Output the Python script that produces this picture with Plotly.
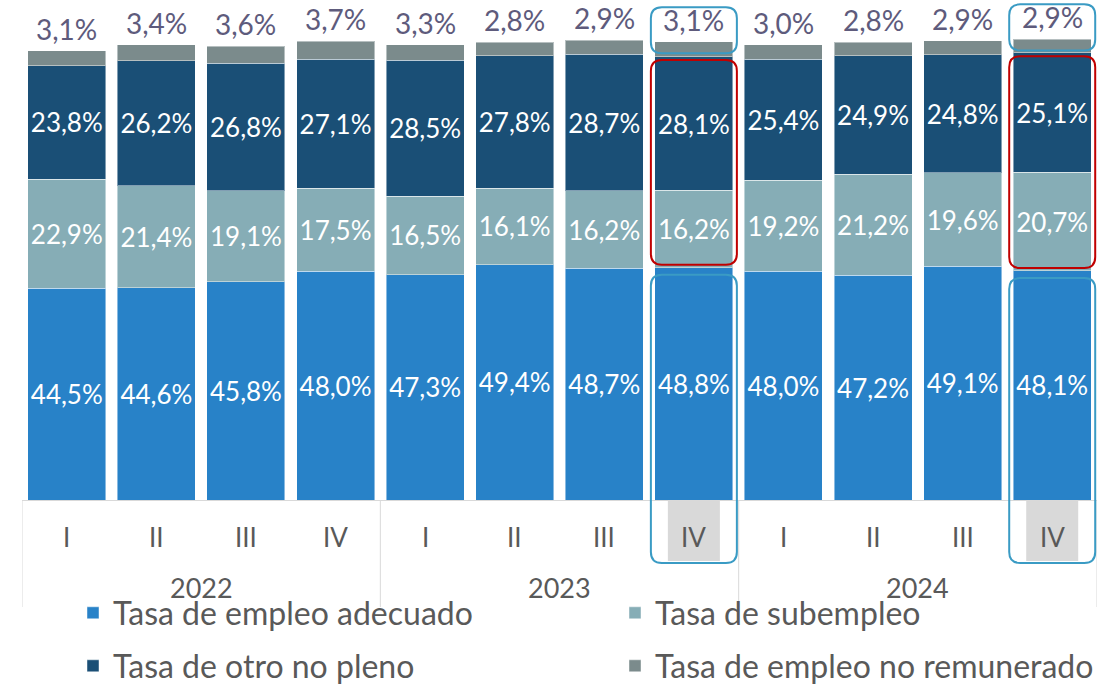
import plotly.graph_objects as go

years = ["2022", "2023", "2024"]
quarters = ["I", "II", "III", "IV"] * 3
periods = [f"{y} {q}" for y in years for q in ["I", "II", "III", "IV"]]

adecuado = [44.5, 44.6, 45.8, 48.0, 47.3, 49.4, 48.7, 48.8, 48.0, 47.2, 49.1, 48.1]
subempleo = [22.9, 21.4, 19.1, 17.5, 16.5, 16.1, 16.2, 16.2, 19.2, 21.2, 19.6, 20.7]
otro_no_pleno = [23.8, 26.2, 26.8, 27.1, 28.5, 27.8, 28.7, 28.1, 25.4, 24.9, 24.8, 25.1]
no_remunerado = [3.1, 3.4, 3.6, 3.7, 3.3, 2.8, 2.9, 3.1, 3.0, 2.8, 2.9, 2.9]

series = [
    ("Tasa de empleo adecuado", adecuado, "#2882C8", "legend"),
    ("Tasa de subempleo", subempleo, "#86ADB6", "legend2"),
    ("Tasa de otro no pleno", otro_no_pleno, "#1A4F76", "legend3"),
    ("Tasa de empleo no remunerado", no_remunerado, "#7B8B8C", "legend4"),
]

FONT = "Lato"
GRAY = "#595959"
W, H = 1114, 685
ML, MR, MT, MB = 22, 17, 0, 185
PW, PH = W - ML - MR, H - MT - MB
YMAX = 105
N = len(periods)

fig = go.Figure()
for name, vals, color, lg in series:
    is_top = name == "Tasa de empleo no remunerado"
    fig.add_trace(go.Bar(
        x=periods, y=vals, name=name,
        marker=dict(color=color, line=dict(color="rgba(255,255,255,0.45)", width=1)),
        texttemplate="" if is_top else "%{y:.1f}%",
        textposition="inside", insidetextanchor="middle",
        textangle=0, constraintext="none",
        textfont=dict(color="white", size=26, family=FONT),
        legend=lg,
    ))

totals = [a + b + c + d for a, b, c, d in zip(adecuado, subempleo, otro_no_pleno, no_remunerado)]


def py(px):
    """pixel row (from top of figure) -> paper y"""
    return (PH - px) / PH


def pxx(px):
    """pixel column -> paper x"""
    return (px - ML) / PW


annotations = []
for i, (t, v) in enumerate(zip(totals, no_remunerado)):
    annotations.append(dict(
        x=i, xref="x", y=t, yref="y",
        text=f"{v:.1f}%".replace(".", ","), showarrow=False,
        yanchor="middle", yshift=22,
        font=dict(color="#5E5B7C", size=28, family=FONT),
    ))
for i, q in enumerate(quarters):
    annotations.append(dict(x=i, xref="x", y=py(537), yref="paper", text=q,
                            showarrow=False, yanchor="middle",
                            font=dict(size=26, family=FONT, color=GRAY)))
for k, yr in enumerate(years):
    annotations.append(dict(x=4 * k + 1.5, xref="x", y=py(587), yref="paper", text=yr,
                            showarrow=False, yanchor="middle",
                            font=dict(size=27, family=FONT, color=GRAY)))


def xf(i, dx_px):
    return (i + 0.5) / N + dx_px / PW


def yf(v):
    return v / YMAX


def rounded(x0, x1, y0, y1, r=11):
    rx, ry = r / PW, r / PH
    return (f"M {x0+rx},{y0} L {x1-rx},{y0} Q {x1},{y0} {x1},{y0+ry} "
            f"L {x1},{y1-ry} Q {x1},{y1} {x1-rx},{y1} L {x0+rx},{y1} "
            f"Q {x0},{y1} {x0},{y1-ry} L {x0},{y0+ry} Q {x0},{y0} {x0+rx},{y0} Z")


shapes = []
for xd in [-0.5, 3.5, 7.5, 11.5]:
    shapes.append(dict(type="line", xref="x", yref="paper", x0=xd, x1=xd,
                       y0=0, y1=py(607), line=dict(color="#D9D9D9", width=1)))

highlight = [7, 11]
for i in highlight:
    x0, x1 = xf(i, -43), xf(i, 43)
    shapes.append(dict(type="rect", xref="paper", yref="paper",
                       x0=xf(i, -26), x1=xf(i, 26), y0=py(561), y1=0,
                       fillcolor="#D9D9D9", line=dict(width=0), layer="below"))
    shapes.append(dict(type="path", xref="paper", yref="paper",
                       path=rounded(x0, x1, yf(adecuado[i] + 0.6),
                                    yf(adecuado[i] + subempleo[i] + otro_no_pleno[i] - 0.7)),
                       line=dict(color="#C00000", width=2)))
    shapes.append(dict(type="path", xref="paper", yref="paper",
                       path=rounded(x0, x1, yf(totals[i] - 2.4), yf(totals[i] + 7.3)),
                       line=dict(color="#3A9BC4", width=2)))
    shapes.append(dict(type="path", xref="paper", yref="paper",
                       path=rounded(x0, x1, py(563), yf(adecuado[i] - 1.5)),
                       line=dict(color="#3A9BC4", width=2)))

legend_common = dict(orientation="h", xanchor="left", yanchor="middle",
                     font=dict(size=32, family=FONT, color=GRAY),
                     bgcolor="rgba(0,0,0,0)", itemclick=False)
legend_pos = {
    "legend": (pxx(73), py(613)),
    "legend2": (pxx(615), py(613)),
    "legend3": (pxx(73), py(666)),
    "legend4": (pxx(615), py(666)),
}
legend_layout = {k: dict(x=x, y=y, **legend_common) for k, (x, y) in legend_pos.items()}

fig.update_layout(
    width=W, height=H,
    margin=dict(l=ML, r=MR, t=MT, b=MB, autoexpand=False),
    barmode="stack", bargap=0.13,
    separators=",.",
    plot_bgcolor="white", paper_bgcolor="white",
    font=dict(family=FONT, color=GRAY),
    showlegend=True,
    annotations=annotations,
    shapes=shapes,
    xaxis=dict(type="category", showline=True, linecolor="#D9D9D9", linewidth=1,
               ticks="", showticklabels=False, automargin=False,
               range=[-0.5, N - 0.5]),
    yaxis=dict(range=[0, YMAX], visible=False, showgrid=False, automargin=False),
    uniformtext=dict(mode=False),
    **legend_layout,
)

fig.write_html("out.html", config={"displayModeBar": False},
               post_script="document.body.style.margin='0';document.body.style.padding='0';")
